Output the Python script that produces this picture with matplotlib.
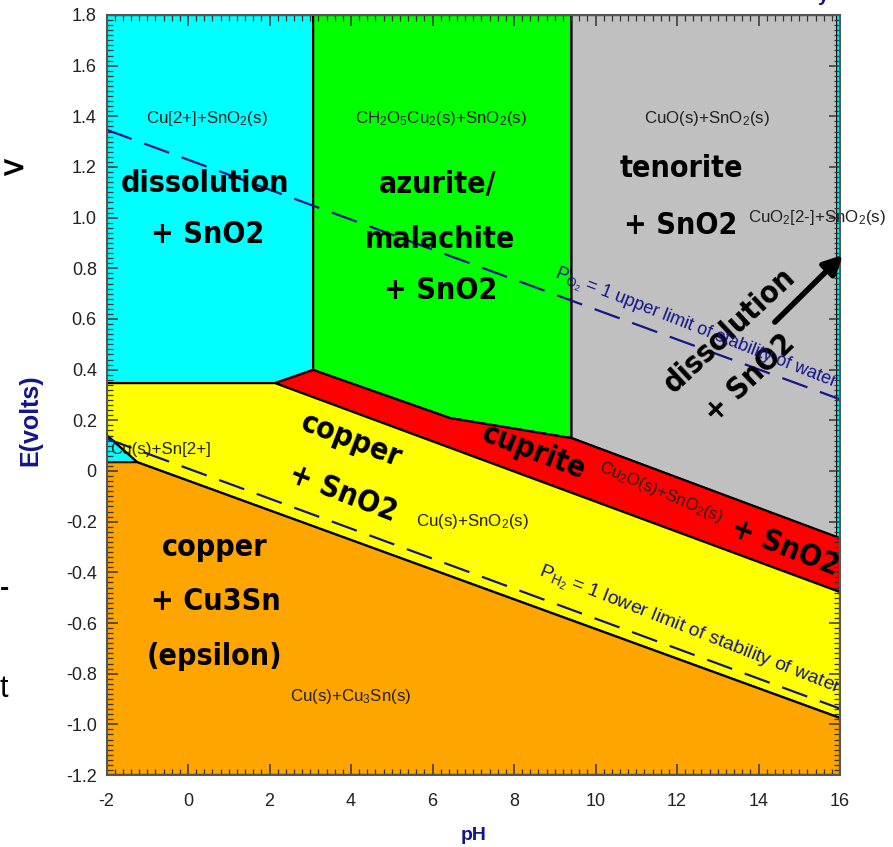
import matplotlib
matplotlib.use('Agg')
import matplotlib.pyplot as plt
from matplotlib import font_manager as fm
from matplotlib.ticker import MultipleLocator, FuncFormatter

# Fonts: use condensed faces if they exist
avail = {f.name for f in fm.fontManager.ttflist}
if 'Liberation Sans Narrow' in avail:
    small_font, k_small = 'Liberation Sans Narrow', 1.2
else:
    small_font, k_small = 'Liberation Sans', 1.0
if 'DejaVu Sans Condensed' in avail:
    big_font, big_stretch, k_big = 'DejaVu Sans Condensed', 'normal', 1.1
else:
    big_font, big_stretch, k_big = 'DejaVu Sans', 'condensed', 1.0

plt.rcParams['mathtext.fontset'] = 'custom'
plt.rcParams['mathtext.rm'] = small_font
plt.rcParams['mathtext.it'] = small_font + ':italic'
plt.rcParams['axes.unicode_minus'] = False

# Axis range
ph_lim = [-2, 16]
e_lim = [-1.2, 1.8]

# Region boundaries (pH, E)
cu2_ph = [-2, 3.07, 3.07, 2.135, -2]
cu2_e = [1.8, 1.8, 0.399, 0.347, 0.347]

azur_ph = [3.07, 9.41, 9.41, 6.43, 3.07]
azur_e = [1.8, 1.8, 0.130, 0.209, 0.399]

teno_ph = [9.41, 15.93, 15.93, 9.41]
teno_e = [1.8, 1.8, -0.263, 0.130]

cuo2_ph = [15.93, 16, 16, 15.93]
cuo2_e = [1.8, 1.8, -0.265, -0.263]

cupr_ph = [2.135, 3.07, 6.43, 9.41, 16, 16]
cupr_e = [0.347, 0.399, 0.209, 0.130, -0.265, -0.478]

copp_ph = [-2, 2.135, 16, 16, -1.25, -2]
copp_e = [0.347, 0.347, -0.478, -0.975, 0.035, 0.142]

sn2_ph = [-2, -1.25, -2]
sn2_e = [0.142, 0.035, 0.035]

eps_ph = [-2, -1.25, 16, 16, -2]
eps_e = [0.035, 0.035, -0.975, -1.2, -1.2]

# Water stability lines
water_ph = [-2, 16]
upper_e = [1.347, 0.283]
lower_e = [0.128, -0.938]

regions = [
    (cu2_ph, cu2_e, '#00FFFF', 1.6),
    (azur_ph, azur_e, '#00FF00', 1.6),
    (teno_ph, teno_e, '#C0C0C0', 1.6),
    (cuo2_ph, cuo2_e, '#00FFFF', 0),
    (cupr_ph, cupr_e, '#FF0000', 1.6),
    (copp_ph, copp_e, '#FFFF00', 1.6),
    (sn2_ph, sn2_e, '#00FFFF', 1.6),
    (eps_ph, eps_e, '#FFA500', 1.6),
]

fig = plt.figure(figsize=(8.93, 8.47), dpi=100)
ax = fig.add_axes([0.1193, 0.0850, 0.8214, 0.8973])

for ph, e, col, lw in regions:
    ax.fill(ph, e, facecolor=col, edgecolor='black', linewidth=lw, zorder=1)

navy = '#14148c'
ax.plot(water_ph, upper_e, color=navy, lw=1.6, dashes=(12, 6), zorder=3)
ax.plot(water_ph, lower_e, color=navy, lw=1.6, dashes=(12, 6), zorder=3)

ax.set_xlim(ph_lim)
ax.set_ylim(e_lim)

# ticks
ax.xaxis.set_major_locator(MultipleLocator(2))
ax.xaxis.set_minor_locator(MultipleLocator(0.2))
ax.yaxis.set_major_locator(MultipleLocator(0.2))
ax.yaxis.set_minor_locator(MultipleLocator(0.02))
ax.yaxis.set_major_formatter(FuncFormatter(lambda v, p: '0' if abs(v) < 1e-9 else f'{v:.1f}'))
ax.tick_params(which='both', direction='in', top=True, right=True, color='#333333')
ax.tick_params(which='major', length=8, width=1.1, labelsize=13 * k_small, pad=7)
ax.tick_params(axis='x', which='major', pad=13)
ax.tick_params(which='minor', length=4, width=0.9)
for lab in ax.get_xticklabels() + ax.get_yticklabels():
    lab.set_fontfamily(small_font)
    lab.set_color('#222222')
for s in ax.spines.values():
    s.set_color('#555555')
    s.set_linewidth(1.5)
    s.set_zorder(5)

fig.text(0.0336, 0.504, 'E(volts)', rotation=90, color=navy, fontsize=18,
         fontweight='bold', family='Liberation Sans', ha='center', va='center')
fig.text(0.530, 0.014, 'pH', color=navy, fontsize=14, fontweight='bold',
         family='Liberation Sans', ha='center', va='center')

# big region names
big = dict(family=big_font, fontstretch=big_stretch, fontweight='bold',
           fontsize=21.8 * k_big, color='black', ha='center', va='center', zorder=4)
big_labels = [
    ('dissolution', 0.42, 1.133, 0), ('+ SnO2', 0.49, 0.932, 0),
    ('azurite/', 6.13, 1.129, 0), ('malachite', 6.18, 0.912, 0), ('+ SnO2', 6.21, 0.714, 0),
    ('tenorite', 12.12, 1.196, 0), ('+ SnO2', 12.10, 0.971, 0),
    ('copper', 4.02, 0.122, -21), ('+ SnO2', 3.80, -0.087, -21),
    ('cuprite', 8.49, 0.075, -21), ('+ SnO2', 14.65, -0.30, -21),
    ('dissolution', 13.30, 0.557, 43), ('+ SnO2', 13.79, 0.367, 44),
    ('copper', 0.66, -0.30, 0), ('+ Cu3Sn', 0.69, -0.517, 0), ('(epsilon)', 0.66, -0.734, 0),
]
for txt, x, y, rot in big_labels:
    ax.text(x, y, txt, rotation=rot, rotation_mode='anchor', **big)

# species labels
sm = dict(family=small_font, fontsize=12.2 * k_small, color='#222222', zorder=4, va='center')
ax.text(0.47, 1.393, 'Cu[2+]+SnO$_2$(s)', ha='center', **sm)
ax.text(6.21, 1.393, 'CH$_2$O$_5$Cu$_2$(s)+SnO$_2$(s)', ha='center', **sm)
ax.text(12.73, 1.393, 'CuO(s)+SnO$_2$(s)', ha='center', **sm)
ax.text(13.74, 1.0, 'CuO$_2$[2-]+SnO$_2$(s)', ha='left', **sm)
ax.text(-1.91, 0.083, 'Cu(s)+Sn[2+]', ha='left', **sm)
ax.text(6.97, -0.201, 'Cu(s)+SnO$_2$(s)', ha='center', **sm)
ax.text(4.0, -0.892, 'Cu(s)+Cu$_3$Sn(s)', ha='center', **sm)
ax.text(11.6, -0.083, 'Cu$_2$O(s)+SnO$_2$(s)', ha='center', rotation=-23,
        rotation_mode='anchor', **sm)

wl = dict(family=small_font, color=navy, zorder=4,
          ha='center', va='center', rotation=-21.5, rotation_mode='anchor')
ax.text(12.46, 0.56, 'P$_{\\mathrm{O_2}}$ = 1 upper limit of stability of water',
        fontsize=13 * k_small, **wl)
ax.text(12.3, -0.63, 'P$_{\\mathrm{H_2}}$ = 1 lower limit of stability of water',
        fontsize=14.0 * k_small, **wl)

# arrow for CuO2[2-] dissolution field
ax.annotate('', xy=(16.07, 0.853), xytext=(14.40, 0.588), annotation_clip=False,
            arrowprops=dict(arrowstyle='-|>', lw=4, color='black', mutation_scale=28,
                            shrinkA=0, shrinkB=0), zorder=6)

# cut-off fragments at the edges of the slide
fig.text(0.001, 0.801, '>', fontsize=22, fontweight='bold', family='DejaVu Sans', va='center')
fig.text(0.0, 0.305, '-', fontsize=20, fontweight='bold', family='Liberation Sans', va='center')
fig.text(0.0, 0.186, 't', fontsize=22, family='Liberation Sans', va='center')
fig.text(0.916, 1.004, 'y', fontsize=14, fontweight='bold', color=navy, family='Liberation Sans', va='center')

fig.savefig('out.png', dpi=100)
